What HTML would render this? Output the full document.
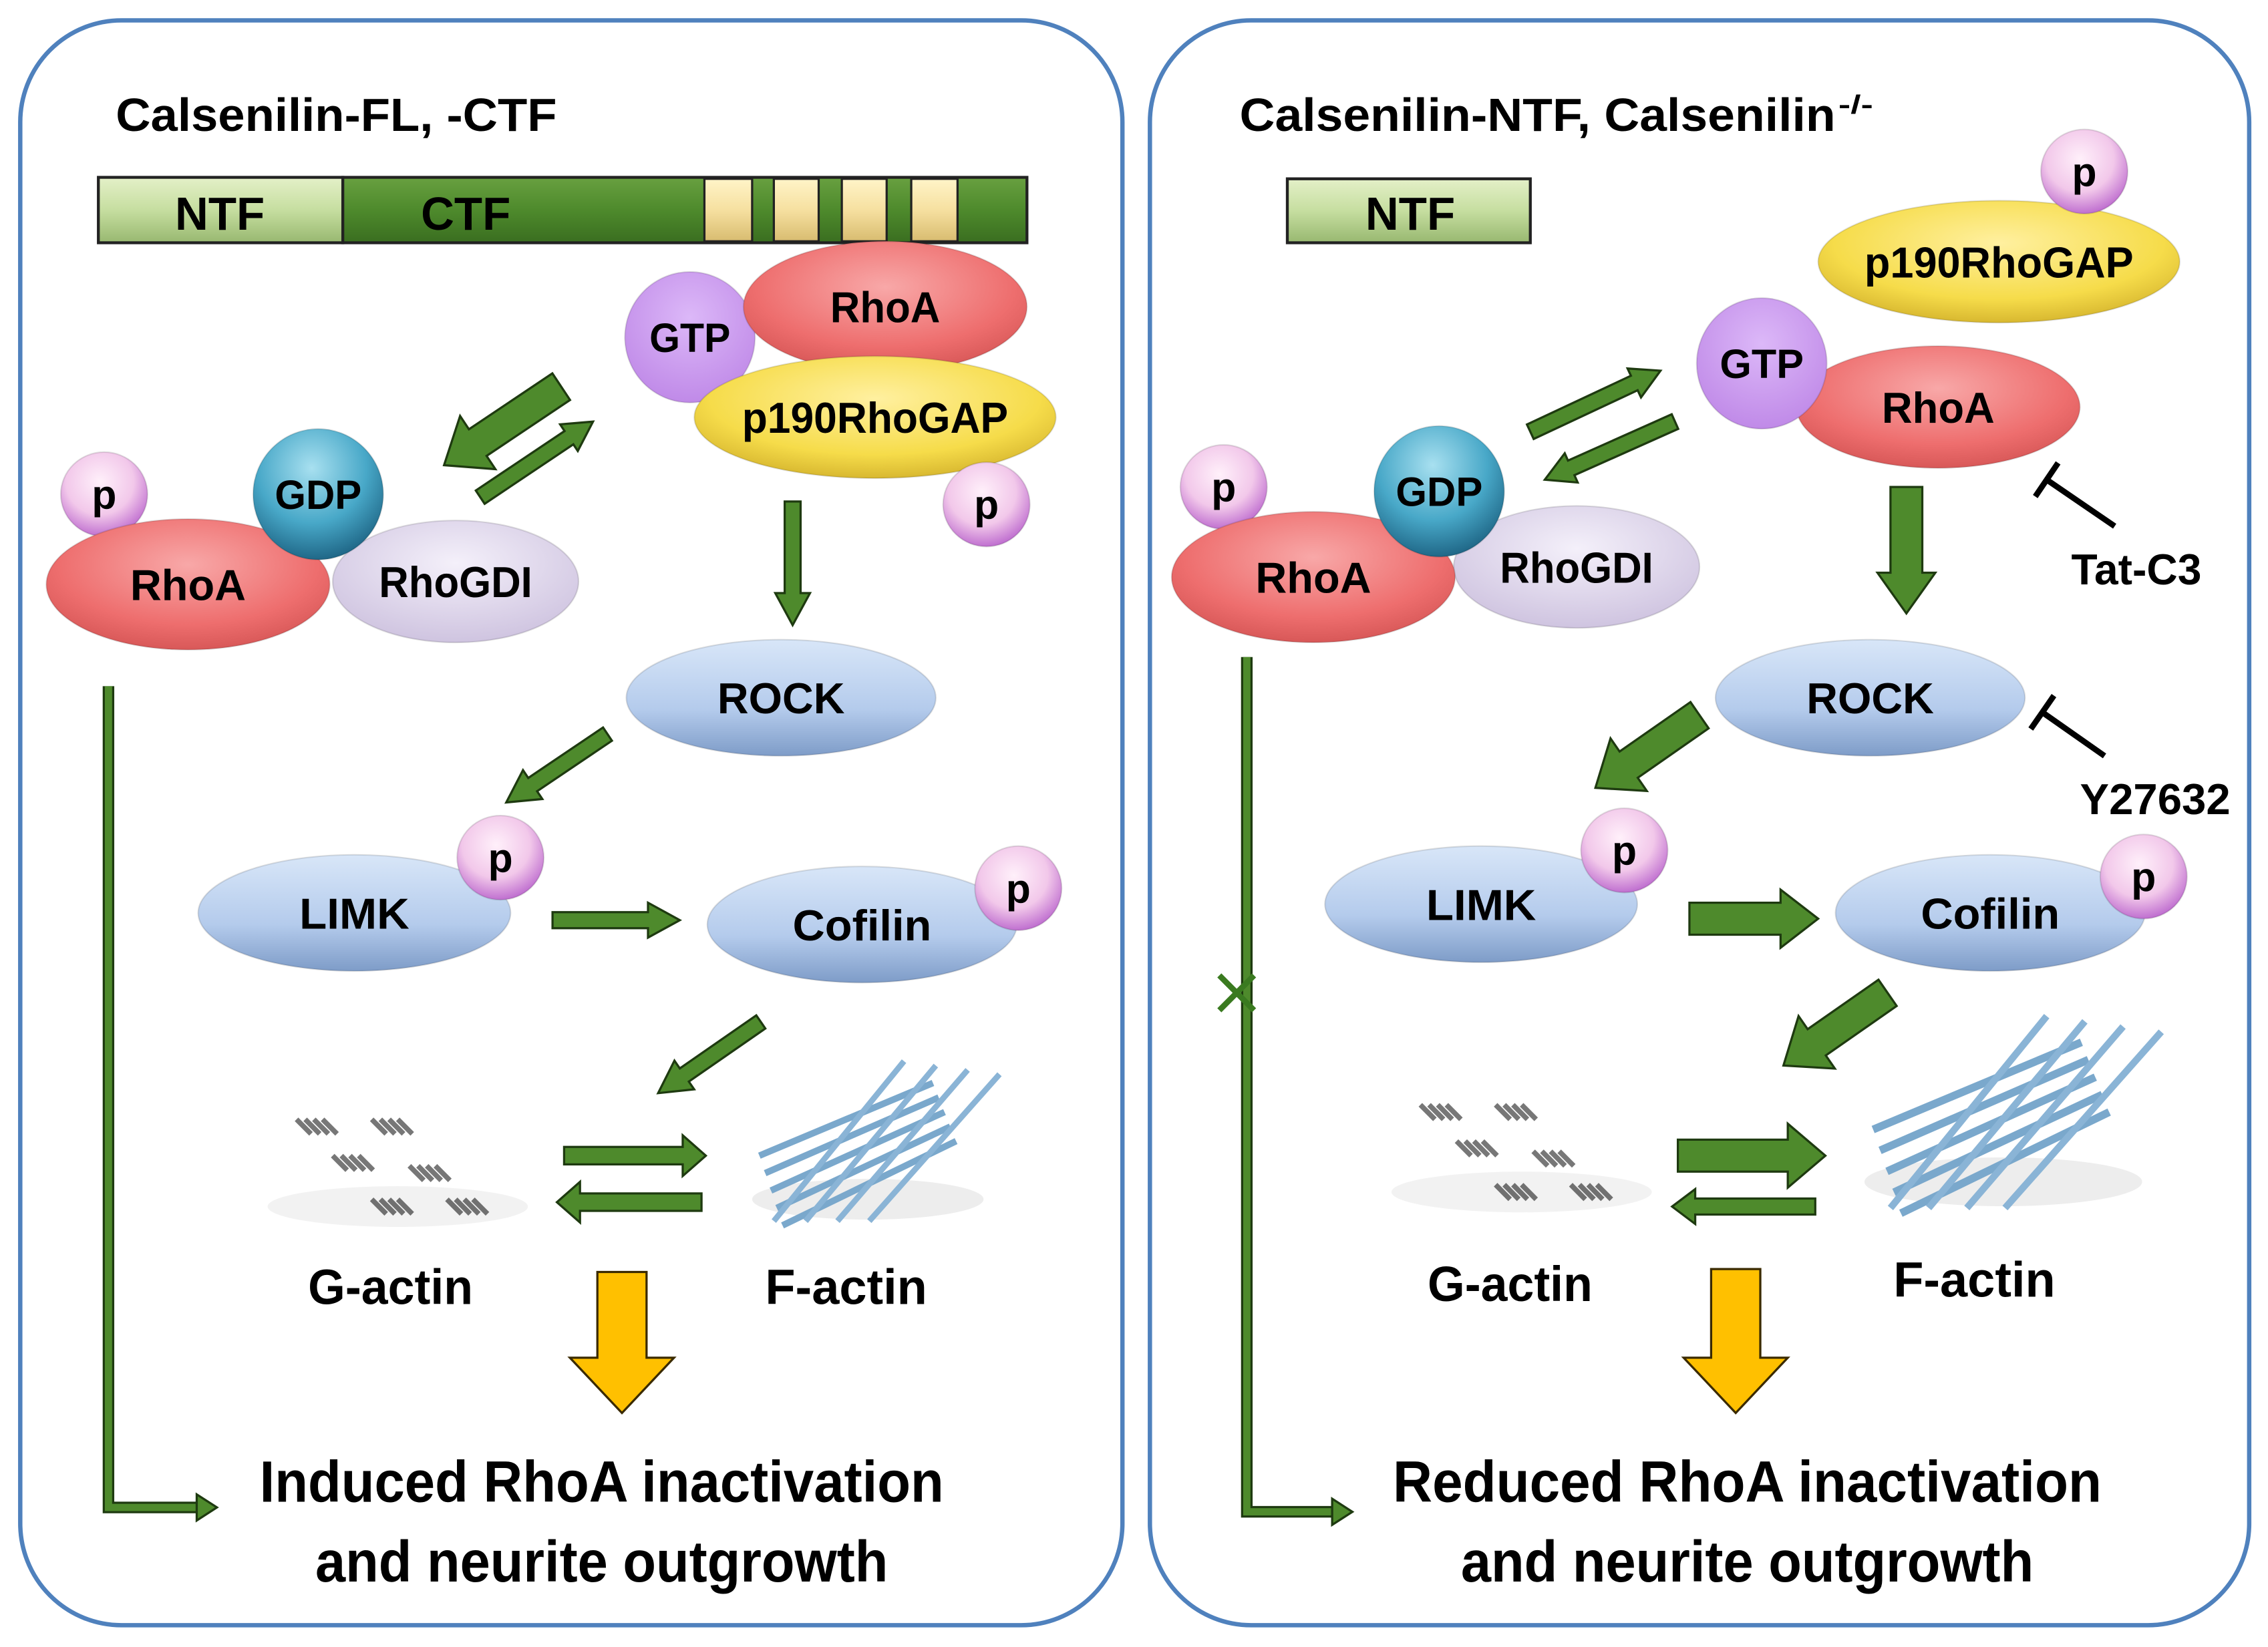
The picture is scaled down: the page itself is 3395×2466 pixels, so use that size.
<!DOCTYPE html>
<html><head><meta charset="utf-8"><style>
html,body{margin:0;padding:0;background:#fff}
svg{display:block}
text{font-family:"Liberation Sans",Arial,sans-serif;font-weight:bold;fill:#000}
</style></head><body>
<svg id="s" width="3395" height="2466" viewBox="0 0 1568 1133" preserveAspectRatio="none" xmlns="http://www.w3.org/2000/svg">
<defs>
<radialGradient id="gRed" cx="50%" cy="35%" r="65%"><stop offset="0" stop-color="#f8a8a8"/><stop offset=".7" stop-color="#ee6e6e"/><stop offset="1" stop-color="#d85858"/></radialGradient>
<radialGradient id="gYel" cx="50%" cy="35%" r="65%"><stop offset="0" stop-color="#fff0a0"/><stop offset=".7" stop-color="#f6dc4a"/><stop offset="1" stop-color="#d8b830"/></radialGradient>
<radialGradient id="gPur" cx="50%" cy="35%" r="65%"><stop offset="0" stop-color="#dcb8f8"/><stop offset="1" stop-color="#c08ae8"/></radialGradient>
<radialGradient id="gPink" cx="45%" cy="35%" r="65%"><stop offset="0" stop-color="#fff0fa"/><stop offset=".6" stop-color="#f2c8ea"/><stop offset="1" stop-color="#c070d0"/></radialGradient>
<radialGradient id="gTeal" cx="45%" cy="30%" r="70%"><stop offset="0" stop-color="#a8e0f0"/><stop offset=".6" stop-color="#48a8c8"/><stop offset="1" stop-color="#206888"/></radialGradient>
<radialGradient id="gLav" cx="50%" cy="35%" r="65%"><stop offset="0" stop-color="#f4f0fa"/><stop offset="1" stop-color="#cfc4e0"/></radialGradient>
<linearGradient id="gBlue" x1="0" y1="0" x2="0" y2="1"><stop offset="0" stop-color="#d8e6f8"/><stop offset=".6" stop-color="#b4cbec"/><stop offset="1" stop-color="#7e9cc8"/></linearGradient>
<linearGradient id="gNtf" x1="0" y1="0" x2="0" y2="1"><stop offset="0" stop-color="#e4f0c8"/><stop offset=".5" stop-color="#c6dea0"/><stop offset="1" stop-color="#98b870"/></linearGradient>
<linearGradient id="gCtf" x1="0" y1="0" x2="0" y2="1"><stop offset="0" stop-color="#68a040"/><stop offset=".5" stop-color="#4e8a2c"/><stop offset="1" stop-color="#3a6e20"/></linearGradient>
<linearGradient id="gYb" x1="0" y1="0" x2="0" y2="1"><stop offset="0" stop-color="#fff4c8"/><stop offset=".5" stop-color="#f6e0a0"/><stop offset="1" stop-color="#d8bc70"/></linearGradient>
</defs>
<rect x="14" y="14" width="762" height="1104" rx="70" fill="#fff" stroke="#4f81bd" stroke-width="3"/>
<rect x="795" y="14" width="760" height="1104" rx="70" fill="#fff" stroke="#4f81bd" stroke-width="3"/>
<g id="g"></g>
</svg>
<script>
var g=document.getElementById('g'),NS='http://www.w3.org/2000/svg';
function el(t,a,txt){var e=document.createElementNS(NS,t);for(var k in a)e.setAttribute(k,a[k]);if(txt!=null)e.textContent=txt;g.appendChild(e);return e;}
function ell(cx,cy,rx,ry,f,lab,fs,tl){el('ellipse',{cx:cx,cy:cy,rx:rx,ry:ry,fill:'url(#'+f+')',stroke:'rgba(0,0,0,0.12)','stroke-width':1});if(lab){var a={x:cx,y:cy+fs*0.36,'text-anchor':'middle','font-size':fs};if(tl){a.textLength=tl;a.lengthAdjust='spacingAndGlyphs';}el('text',a,lab);}}
function txt(x,y,s,fs,tl,anchor){var a={x:x,y:y,'font-size':fs,'text-anchor':anchor||'start'};if(tl){a.textLength=tl;a.lengthAdjust='spacingAndGlyphs';}return el('text',a,s);}
function arrow(x1,y1,x2,y2,w,hw,hl,fill){var dx=x2-x1,dy=y2-y1,L=Math.sqrt(dx*dx+dy*dy),ux=dx/L,uy=dy/L,px=-uy,py=ux;var bx=x2-ux*hl,by=y2-uy*hl;var p=[[x1+px*w/2,y1+py*w/2],[bx+px*w/2,by+py*w/2],[bx+px*hw/2,by+py*hw/2],[x2,y2],[bx-px*hw/2,by-py*hw/2],[bx-px*w/2,by-py*w/2],[x1-px*w/2,y1-py*w/2]];el('polygon',{points:p.map(function(q){return q.join(',')}).join(' '),fill:fill||'#4e8a2c',stroke:'#1e3a10','stroke-width':1.5});}
function pb(x,y){ell(x,y,30,29,'gPink','p',28,null);}
function gactin(x0,y0){var pos=[[0,0],[52,0],[25,25],[78,32],[52,55],[104,55]];pos.forEach(function(p){for(var i=0;i<4;i++){var x=x0+p[0]+i*6,y=y0+p[1];el('path',{d:'M'+x+' '+(y)+' l10 10',stroke:'#777','stroke-width':3.5});}});el('ellipse',{cx:x0+70,cy:y0+60,rx:90,ry:14,fill:'rgba(0,0,0,0.05)'});}
function factin(x0,y0,sc){var s=sc;el('ellipse',{cx:x0+75*s,cy:y0+90*s,rx:80*s,ry:14*s,fill:'rgba(0,0,0,0.07)'});
for(var i=0;i<5;i++){el('line',{x1:x0+i*4*s,y1:y0+(60+i*12)*s,x2:x0+(120+i*4)*s,y2:y0+(10+i*10)*s,stroke:'#7aa8cc','stroke-width':4.5*s});}
for(var i=0;i<4;i++){el('line',{x1:x0+(10+i*22)*s,y1:y0+(105)*s,x2:x0+(100+i*22)*s,y2:y0+(-5+i*3)*s,stroke:'#8ab4d6','stroke-width':4*s});}}
function lconn(x,y1,y2,x2){var d='M'+x+' '+y1+' L'+x+' '+y2+' L'+(x2-12)+' '+y2;el('path',{d:d,fill:'none',stroke:'#1e3a10','stroke-width':8});el('path',{d:d,fill:'none',stroke:'#4e8a2c','stroke-width':5});el('polygon',{points:(x2-14)+','+(y2-9)+' '+x2+','+y2+' '+(x2-14)+','+(y2+9),fill:'#4e8a2c',stroke:'#1e3a10','stroke-width':1.5});}
function yarrow(cx,y1,y2){el('polygon',{points:(cx-17)+','+y1+' '+(cx+17)+','+y1+' '+(cx+17)+','+(y2-38)+' '+(cx+36)+','+(y2-38)+' '+cx+','+y2+' '+(cx-36)+','+(y2-38)+' '+(cx-17)+','+(y2-38),fill:'#ffc000',stroke:'#3a2a00','stroke-width':1.5});}
function inhib(x1,y1,x2,y2){el('line',{x1:x1,y1:y1,x2:x2,y2:y2,stroke:'#000','stroke-width':4});var dx=x2-x1,dy=y2-y1,L=Math.hypot(dx,dy),px=-dy/L*14,py=dx/L*14;el('line',{x1:x2+px,y1:y2+py,x2:x2-px,y2:y2-py,stroke:'#000','stroke-width':4});}

/* LEFT */
txt(80,90,'Calsenilin-FL, -CTF',32,305);
el('rect',{x:68,y:122,width:169,height:45,fill:'url(#gNtf)',stroke:'#222','stroke-width':2});
el('rect',{x:237,y:122,width:473,height:45,fill:'url(#gCtf)',stroke:'#222','stroke-width':2});
[[487,520],[535,566],[582,613],[630,662]].forEach(function(b){el('rect',{x:b[0],y:123,width:b[1]-b[0],height:43,fill:'url(#gYb)',stroke:'#222','stroke-width':1.5});});
txt(152,158,'NTF',32,62,'middle');txt(322,158,'CTF',32,62,'middle');
ell(477,232,45,45,'gPur','GTP',28,56);
ell(612,211,98,45,'gRed','RhoA',30,76);
ell(605,287,125,42,'gYel','p190RhoGAP',30,184);
pb(682,347);
pb(72,340);
ell(315,400,85,42,'gLav','RhoGDI',30,106);
ell(130,402,98,45,'gRed','RhoA',30,80);
ell(220,340,45,45,'gTeal','GDP',28,60);
arrow(388,266,307,320,22,44,28);
arrow(332,342,410,290,11,22,20);
arrow(548,345,548,430,11,24,22);
ell(540,480,107,40,'gBlue','ROCK',30,88);
arrow(420,505,350,552,11,24,22);
ell(245,628,108,40,'gBlue','LIMK',30,76);pb(346,590);
arrow(382,633,470,633,11,24,22);
ell(596,636,107,40,'gBlue','Cofilin',30,96);pb(704,611);
arrow(526,703,455,752,11,24,22);
gactin(205,770);factin(525,735,1);
arrow(390,795,488,795,12,28,16);
arrow(485,827,385,827,12,28,16);
txt(270,897,'G-actin',34,114,'middle');txt(585,897,'F-actin',34,112,'middle');
yarrow(430,875,972);
txt(416,1033,'Induced RhoA inactivation',40,473,'middle');
txt(416,1088,'and neurite outgrowth',40,396,'middle');
lconn(75,472,1037,150);

/* RIGHT */
var t=txt(857,90,'Calsenilin-NTF, Calsenilin',32,412);
txt(1271,78,'-/-',18,24);
el('rect',{x:890,y:123,width:168,height:44,fill:'url(#gNtf)',stroke:'#222','stroke-width':2});
txt(975,158,'NTF',32,62,'middle');
ell(1382,180,125,42,'gYel','p190RhoGAP',30,186);
pb(1441,118);
ell(1340,280,98,42,'gRed','RhoA',30,78);
ell(1218,250,45,45,'gPur','GTP',28,58);
arrow(1058,297,1148,255,11,22,20);
arrow(1158,290,1068,330,11,22,20);
pb(846,335);
ell(1090,390,85,42,'gLav','RhoGDI',30,106);
ell(908,397,98,45,'gRed','RhoA',30,80);
ell(995,338,45,45,'gTeal','GDP',28,60);
arrow(1318,335,1318,422,22,40,28);
inhib(1462,362,1415,330);txt(1477,402,'Tat-C3',30,90,'middle');
ell(1293,480,107,40,'gBlue','ROCK',30,88);
inhib(1455,520,1412,490);txt(1490,560,'Y27632',30,104,'middle');
arrow(1175,492,1103,542,22,44,28);
ell(1024,622,108,40,'gBlue','LIMK',30,76);pb(1123,585);
arrow(1168,632,1257,632,22,40,26);
ell(1376,628,107,40,'gBlue','Cofilin',30,96);pb(1482,603);
arrow(1305,683,1233,733,22,44,28);
gactin(982,760);factin(1295,705,1.2);
arrow(1160,795,1262,795,22,44,26);
arrow(1255,830,1156,830,11,24,16);
txt(1044,895,'G-actin',34,114,'middle');txt(1365,892,'F-actin',34,112,'middle');
yarrow(1200,873,972);
txt(1208,1033,'Reduced RhoA inactivation',40,490,'middle');
txt(1208,1088,'and neurite outgrowth',40,396,'middle');
lconn(862,452,1040,935);
el('path',{d:'M843 671 L867 695 M867 671 L843 695',stroke:'#3a7a20','stroke-width':4});
</script>
</body></html>
